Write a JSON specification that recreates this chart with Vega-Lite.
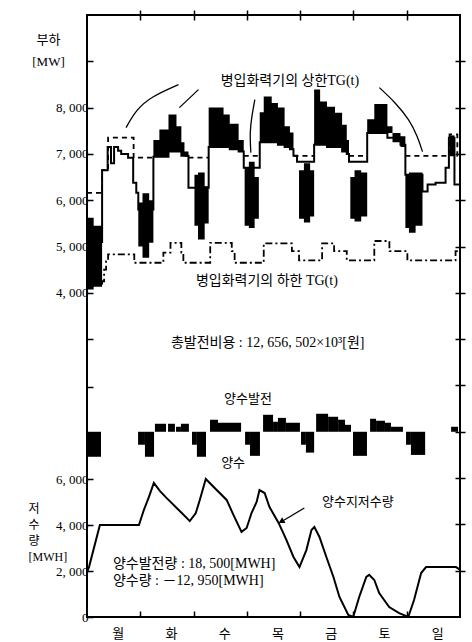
{
"$schema": "https://vega.github.io/schema/vega-lite/v6.json",
"width": 373,
"height": 602,
"autosize": {"type": "none"},
"padding": {"left": 87, "top": 15, "right": 12, "bottom": 25},
"background": "white",
"datasets": {
"blocks": [
{"blk":"A","h":0,"hi":5620,"lo":4070},{"blk":"A","h":3,"hi":5450,"lo":4130},{"blk":"A","h":6.8,"hi":5450,"lo":4130},
{"blk":"B","h":23.1,"hi":5950,"lo":5000},{"blk":"B","h":25,"hi":6150,"lo":4760},{"blk":"B","h":28,"hi":6000,"lo":5080},{"blk":"B","h":29.9,"hi":6000,"lo":5080},
{"blk":"C","h":29.9,"hi":7300,"lo":6940},{"blk":"C","h":32.6,"hi":7530,"lo":6940},{"blk":"C","h":36.7,"hi":7850,"lo":7050},{"blk":"C","h":40.3,"hi":7600,"lo":7050},{"blk":"C","h":42.5,"hi":7250,"lo":6960},{"blk":"C","h":43.9,"hi":7050,"lo":6940},{"blk":"C","h":45.7,"hi":7050,"lo":6940},
{"blk":"D","h":48.4,"hi":6550,"lo":5450},{"blk":"D","h":50,"hi":6600,"lo":5150},{"blk":"D","h":53,"hi":6300,"lo":5500},{"blk":"D","h":54.8,"hi":6300,"lo":5500},
{"blk":"E","h":54.8,"hi":8000,"lo":7150},{"blk":"E","h":61.5,"hi":7850,"lo":7150},{"blk":"E","h":64.3,"hi":7650,"lo":7100},{"blk":"E","h":68.3,"hi":7300,"lo":7050},{"blk":"E","h":70.6,"hi":7300,"lo":7050},
{"blk":"F","h":71,"hi":6720,"lo":5450},{"blk":"F","h":72.9,"hi":6830,"lo":5400},{"blk":"F","h":75.5,"hi":6500,"lo":5600},{"blk":"F","h":77.4,"hi":6500,"lo":5600},
{"blk":"G","h":77.8,"hi":7900,"lo":7250},{"blk":"G","h":79.6,"hi":8240,"lo":7250},{"blk":"G","h":83.2,"hi":8100,"lo":7250},{"blk":"G","h":86,"hi":8000,"lo":7200},{"blk":"G","h":89,"hi":7600,"lo":7150},{"blk":"G","h":91.4,"hi":7460,"lo":7100},{"blk":"G","h":93,"hi":7460,"lo":7100},
{"blk":"H","h":95.5,"hi":6650,"lo":5600},{"blk":"H","h":97.7,"hi":6800,"lo":5520},{"blk":"H","h":100.5,"hi":6650,"lo":5650},{"blk":"H","h":102.3,"hi":6650,"lo":5650},
{"blk":"I","h":102.3,"hi":8390,"lo":7200},{"blk":"I","h":105,"hi":8130,"lo":7200},{"blk":"I","h":108.1,"hi":8020,"lo":7150},{"blk":"I","h":111.7,"hi":7890,"lo":7150},{"blk":"I","h":114.9,"hi":7630,"lo":7050},{"blk":"I","h":117,"hi":7300,"lo":7000},{"blk":"I","h":118,"hi":7300,"lo":7000},
{"blk":"J","h":118.6,"hi":6500,"lo":5600},{"blk":"J","h":120.5,"hi":6650,"lo":5540},{"blk":"J","h":123.5,"hi":6600,"lo":5650},{"blk":"J","h":126.2,"hi":6600,"lo":5650},
{"blk":"K","h":126.2,"hi":7750,"lo":7450},{"blk":"K","h":129.4,"hi":8080,"lo":7450},{"blk":"K","h":135.3,"hi":7600,"lo":7450},{"blk":"K","h":137.6,"hi":7450,"lo":7250},{"blk":"K","h":141.2,"hi":7380,"lo":7150},{"blk":"K","h":143.4,"hi":7380,"lo":7150},
{"blk":"L","h":143.4,"hi":6550,"lo":5400},{"blk":"L","h":145,"hi":6600,"lo":5300},{"blk":"L","h":148,"hi":6600,"lo":5450},{"blk":"L","h":151.1,"hi":6600,"lo":5450},
{"blk":"M","h":163.5,"hi":7400,"lo":6950},{"blk":"M","h":165.5,"hi":7400,"lo":6950}
],
"thermal": [
{"h":0,"v":5100},{"h":6.8,"v":6650},{"h":9.3,"v":7150},{"h":10.8,"v":6800},{"h":12.2,"v":7150},{"h":14,"v":7070},{"h":15.4,"v":7000},{"h":18.5,"v":6920},{"h":20.8,"v":6380},{"h":22.2,"v":6160},{"h":23.1,"v":5800},{"h":29.9,"v":6940},{"h":36.7,"v":7050},{"h":42.5,"v":6960},{"h":45.7,"v":6270},{"h":54.8,"v":7150},{"h":64.3,"v":7100},{"h":68.3,"v":7050},{"h":70.6,"v":6700},{"h":77.8,"v":7250},{"h":86,"v":7200},{"h":89,"v":7150},{"h":91.4,"v":7100},{"h":93,"v":6960},{"h":94.6,"v":6830},{"h":102.3,"v":7200},{"h":108.1,"v":7150},{"h":114.9,"v":7050},{"h":117,"v":7000},{"h":118,"v":6830},{"h":126.2,"v":7450},{"h":135.3,"v":7350},{"h":141.2,"v":7200},{"h":143.4,"v":6550},{"h":151.1,"v":6190},{"h":153.4,"v":6340},{"h":157,"v":6380},{"h":161.5,"v":6700},{"h":163,"v":7350},{"h":165.5,"v":6340},{"h":168,"v":6340}
],
"upper": [
{"seg":1,"h":0,"v":6160},{"seg":1,"h":6.8,"v":6650},{"seg":1,"h":9.5,"v":7350},{"seg":1,"h":21,"v":6920},{"seg":1,"h":29.9,"v":6920},
{"seg":2,"h":45.7,"v":6920},{"seg":2,"h":54.8,"v":6920},
{"seg":3,"h":70.6,"v":6960},{"seg":3,"h":77.8,"v":6960},
{"seg":4,"h":93,"v":6960},{"seg":4,"h":102.3,"v":6960},
{"seg":5,"h":118,"v":6960},{"seg":5,"h":126.2,"v":6960},
{"seg":6,"h":143.4,"v":6960},{"seg":6,"h":163.3,"v":7420},{"seg":6,"h":166.8,"v":6960},{"seg":6,"h":168,"v":6960}
],
"lower": [
{"h":0,"v":4200},{"h":6.8,"v":4250},{"h":7.7,"v":4500},{"h":8.6,"v":4680},{"h":9.5,"v":4830},{"h":21.3,"v":4650},{"h":34.4,"v":4870},{"h":37.6,"v":5080},{"h":42.5,"v":4870},{"h":43.4,"v":4650},{"h":55.5,"v":5080},{"h":65.2,"v":4900},{"h":66.5,"v":4650},{"h":79.6,"v":5070},{"h":92.3,"v":4900},{"h":95.5,"v":4700},{"h":105.9,"v":5070},{"h":111.3,"v":4900},{"h":117,"v":4700},{"h":129.4,"v":5120},{"h":136.2,"v":4900},{"h":144.3,"v":4700},{"h":166,"v":4900},{"h":168,"v":4900}
],
"leaders": [
{"id":1,"seq":0,"h":41.2,"v":8497},{"id":1,"seq":1,"h":29,"v":8238},{"id":1,"seq":2,"h":22.2,"v":7957},{"id":1,"seq":3,"h":17.6,"v":7568},
{"id":2,"seq":0,"h":50.2,"v":8389},{"id":2,"seq":1,"h":41.6,"v":8000},
{"id":3,"seq":0,"h":75.6,"v":8173},{"id":3,"seq":1,"h":74.2,"v":7806},{"id":3,"seq":2,"h":73.3,"v":7460},{"id":3,"seq":3,"h":73.8,"v":7028},
{"id":4,"seq":0,"h":131.7,"v":8432},{"id":4,"seq":1,"h":138.9,"v":8108},{"id":4,"seq":2,"h":145.2,"v":7741},{"id":4,"seq":3,"h":148.9,"v":7374},{"id":4,"seq":4,"h":151.1,"v":7050}
],
"textUpper": [
{"h":91.4,"v":8583,"t":"병입화력기의 상한TG(t)"},
{"h":81,"v":4263,"t":"병입화력기의 하한 TG(t)"},
{"h":81.4,"v":2924,"t":"총발전비용 : 12, 656, 502×10³[원]"}
],
"pump": [
{"h0":0,"h1":6.3,"p":-540},{"h0":23,"h1":26.1,"p":-280},{"h0":26.1,"h1":30.2,"p":-540},{"h0":30.6,"h1":35.6,"p":173},{"h0":36.5,"h1":39.6,"p":173},{"h0":40.1,"h1":42.3,"p":108},{"h0":42.3,"h1":45.9,"p":173},
{"h0":47.3,"h1":49.5,"p":-280},{"h0":49.5,"h1":53.6,"p":-540},{"h0":55.4,"h1":59,"p":260},{"h0":59,"h1":69.4,"p":195},
{"h0":71.2,"h1":73.4,"p":-280},{"h0":73.4,"h1":77.9,"p":-520},{"h0":79.3,"h1":83.8,"p":367},{"h0":83.8,"h1":86,"p":216},{"h0":86,"h1":89.6,"p":300},{"h0":89.6,"h1":95.9,"p":195},
{"h0":96.4,"h1":98.6,"p":-280},{"h0":98.6,"h1":102.3,"p":-450},{"h0":103.2,"h1":108.6,"p":389},{"h0":108.6,"h1":113.1,"p":324},{"h0":113.1,"h1":116.2,"p":260},{"h0":116.2,"h1":118.9,"p":150},
{"h0":119.8,"h1":126.1,"p":-520},{"h0":127.5,"h1":130.2,"p":281},{"h0":130.2,"h1":134.2,"p":238},{"h0":134.2,"h1":136.9,"p":195},{"h0":136.9,"h1":142.3,"p":108},
{"h0":143.7,"h1":145.9,"p":-280},{"h0":145.9,"h1":152.3,"p":-500},{"h0":164,"h1":167.1,"p":108}
],
"storage": [
{"h":0,"s":1960},{"h":0.9,"s":2170},{"h":5.8,"s":4000},{"h":23.4,"s":4000},{"h":25.6,"s":4650},{"h":27.9,"s":5220},{"h":30.1,"s":5830},{"h":32.8,"s":5480},{"h":35.9,"s":5170},{"h":38.2,"s":4950},{"h":40.4,"s":4740},{"h":42.7,"s":4520},{"h":46.3,"s":4170},{"h":49,"s":4520},{"h":50.8,"s":5090},{"h":53.5,"s":6000},{"h":58.4,"s":5520},{"h":62.9,"s":5090},{"h":66,"s":4430},{"h":69.6,"s":3700},{"h":71.9,"s":3870},{"h":74.1,"s":4520},{"h":76.4,"s":5000},{"h":77.7,"s":5520},{"h":80,"s":5390},{"h":82.2,"s":4780},{"h":86.3,"s":4090},{"h":89.8,"s":3350},{"h":93,"s":2610},{"h":95.7,"s":2170},{"h":98.8,"s":2910},{"h":101.1,"s":3780},{"h":102.4,"s":3910},{"h":104.7,"s":3480},{"h":107.8,"s":2610},{"h":111,"s":1740},{"h":113.7,"s":870},{"h":117.7,"s":90},{"h":119.9,"s":0},{"h":122.6,"s":870},{"h":125.8,"s":1740},{"h":127.1,"s":1830},{"h":129.4,"s":1610},{"h":131.6,"s":1040},{"h":136.1,"s":430},{"h":140.6,"s":170},{"h":144.7,"s":0},{"h":147.3,"s":740},{"h":150.5,"s":1910},{"h":152.7,"s":2170},{"h":166.2,"s":2170},{"h":168,"s":2060}
],
"arrow": [{"h":97.9,"s":4739},{"h":86.6,"s":4087}],
"arrowHead": [{"h":87.5,"s":4152}],
"textLowerC": [
{"h":72.5,"s":9478,"t":"양수발전"},
{"h":65.8,"s":6696,"t":"양수"},
{"h":122,"s":5000,"t":"양수지저수량"}
],
"textLowerL": [
{"h":11.7,"s":2304,"t":"양수발전량 : 18, 500[MWH]"},
{"h":11.7,"s":1565,"t":"양수량 : －12, 950[MWH]"}
]
},
"layer": [
{
"data": {"name": "blocks"},
"mark": {"type": "area", "interpolate": "step-after", "color": "black"},
"encoding": {
"x": {"field": "h", "type": "quantitative", "scale": {"domain": [0, 168], "nice": false}, "axis": {"orient": "top", "values": [24, 48, 72, 96, 120, 144], "labels": false, "tickSize": 5, "title": null}},
"y": {"field": "hi", "type": "quantitative", "scale": {"domain": [-3000, 10000], "nice": false, "zero": false}, "axis": {"orient": "left", "values": [3000, 4000, 5000, 6000, 7000, 8000, 9000], "tickSize": -6, "labelPadding": 5, "labelExpr": "datum.value >= 4000 && datum.value <= 8000 ? replace(format(datum.value, ','), ',', ', ') : ''", "title": ["부하", "[MW]"], "titleAngle": 0, "titleAlign": "center", "titleBaseline": "top", "titleX": -39, "titleY": 18, "titleFont": "Liberation Serif, Noto Sans CJK KR", "titleFontSize": 13, "titleFontWeight": "normal", "titleLineHeight": 22}},
"y2": {"field": "lo"},
"detail": {"field": "blk"}
}
},
{
"data": {"name": "thermal"},
"mark": {"type": "line", "interpolate": "step-after", "color": "black", "strokeWidth": 2},
"encoding": {
"x": {"field": "h", "type": "quantitative", "axis": null},
"y": {"field": "v", "type": "quantitative", "scale": {"domain": [-3000, 10000], "nice": false, "zero": false}, "axis": null}
}
},
{
"data": {"name": "upper"},
"mark": {"type": "line", "interpolate": "step-after", "color": "black", "strokeWidth": 1.8, "strokeDash": [5, 4]},
"encoding": {
"x": {"field": "h", "type": "quantitative", "axis": null},
"y": {"field": "v", "type": "quantitative", "scale": {"domain": [-3000, 10000], "nice": false, "zero": false}, "axis": null},
"detail": {"field": "seg"}
}
},
{
"data": {"name": "leaders"},
"mark": {"type": "line", "interpolate": "basis", "color": "black", "strokeWidth": 1.3},
"encoding": {
"x": {"field": "h", "type": "quantitative", "axis": null},
"y": {"field": "v", "type": "quantitative", "scale": {"domain": [-3000, 10000], "nice": false, "zero": false}, "axis": null},
"detail": {"field": "id"},
"order": {"field": "seq"}
}
},
{
"data": {"name": "textUpper"},
"mark": {"type": "text", "align": "center", "baseline": "middle", "fontSize": 14, "font": "Liberation Serif, Noto Sans CJK KR", "color": "black"},
"encoding": {
"x": {"field": "h", "type": "quantitative", "axis": null},
"y": {"field": "v", "type": "quantitative", "scale": {"domain": [-3000, 10000], "nice": false, "zero": false}, "axis": null},
"text": {"field": "t"}
}
},
{
"data": {"name": "lower"},
"mark": {"type": "line", "interpolate": "step-after", "color": "black", "strokeWidth": 1.8, "strokeDash": [7, 3, 2, 3]},
"encoding": {
"x": {"field": "h", "type": "quantitative", "axis": {"orient": "top", "values": [24, 48, 72, 96, 120, 144], "labels": false, "tickSize": -5, "title": null}},
"y": {"field": "v", "type": "quantitative", "scale": {"domain": [-3000, 10000], "nice": false, "zero": false}, "axis": {"orient": "right", "values": [-2000, -1000, 0, 1000, 2000, 3000, 4000, 5000, 6000, 7000, 8000, 9000], "labels": false, "tickSize": 5, "title": null}}
}
},
{
"data": {"name": "pump"},
"mark": {"type": "rect", "color": "black"},
"encoding": {
"x": {"field": "h0", "type": "quantitative", "axis": {"orient": "bottom", "values": [12, 36, 60, 84, 108, 132, 156], "ticks": false, "labelExpr": "['월','화','수','목','금','토','일'][floor(datum.value / 24)]", "labelFont": "Noto Sans CJK KR", "labelFontSize": 13, "labelPadding": 10, "labelOffset": 4, "title": null}},
"x2": {"field": "h1"},
"y": {"field": "p", "type": "quantitative", "scale": {"domain": [-4000, 9000], "nice": false, "zero": false}, "axis": {"orient": "right", "values": [-3000, -2000, -1000, 0, 1000, 2000, 3000, 4000, 5000, 6000, 7000, 8000], "labels": false, "tickSize": -5, "title": null}},
"y2": {"datum": 0}
}
},
{
"mark": {"type": "rule", "color": "black", "strokeWidth": 1.5},
"encoding": {"y": {"datum": 0, "scale": {"domain": [-4000, 9000], "nice": false, "zero": false}, "axis": null}}
},
{
"data": {"name": "storage"},
"mark": {"type": "line", "color": "black", "strokeWidth": 2},
"encoding": {
"x": {"field": "h", "type": "quantitative", "axis": {"orient": "bottom", "values": [24, 48, 72, 96, 120, 144], "labels": false, "tickSize": -6, "title": null}},
"y": {"field": "s", "type": "quantitative", "scale": {"domain": [0, 26174], "nice": false, "zero": false}, "axis": {"orient": "left", "values": [0, 2000, 4000, 6000, 8000, 10000], "tickSize": -6, "labelPadding": 5, "labelExpr": "datum.value <= 6000 ? replace(format(datum.value, ','), ',', ', ') : ''", "title": ["저", "수", "량", "[MWH]"], "titleAngle": 0, "titleAlign": "left", "titleBaseline": "top", "titleX": -59, "titleY": 488, "titleFont": "Liberation Serif, Noto Sans CJK KR", "titleFontSize": 12, "titleFontWeight": "normal", "titleLineHeight": 16}}
}
},
{
"data": {"name": "arrow"},
"mark": {"type": "line", "color": "black", "strokeWidth": 1.3},
"encoding": {
"x": {"field": "h", "type": "quantitative", "axis": null},
"y": {"field": "s", "type": "quantitative", "scale": {"domain": [0, 26174], "nice": false, "zero": false}, "axis": null}
}
},
{
"data": {"name": "arrowHead"},
"mark": {"type": "point", "shape": "triangle-up", "angle": 240, "size": 45, "filled": true, "color": "black", "opacity": 1},
"encoding": {
"x": {"field": "h", "type": "quantitative", "axis": null},
"y": {"field": "s", "type": "quantitative", "scale": {"domain": [0, 26174], "nice": false, "zero": false}, "axis": null}
}
},
{
"data": {"name": "textLowerC"},
"mark": {"type": "text", "align": "center", "baseline": "middle", "fontSize": 13, "font": "Liberation Serif, Noto Sans CJK KR", "color": "black"},
"encoding": {
"x": {"field": "h", "type": "quantitative", "axis": null},
"y": {"field": "s", "type": "quantitative", "scale": {"domain": [0, 26174], "nice": false, "zero": false}, "axis": null},
"text": {"field": "t"}
}
},
{
"data": {"name": "textLowerL"},
"mark": {"type": "text", "align": "left", "baseline": "middle", "fontSize": 14, "font": "Liberation Serif, Noto Sans CJK KR", "color": "black"},
"encoding": {
"x": {"field": "h", "type": "quantitative", "axis": null},
"y": {"field": "s", "type": "quantitative", "scale": {"domain": [0, 26174], "nice": false, "zero": false}, "axis": null},
"text": {"field": "t"}
}
}
],
"resolve": {"scale": {"y": "independent"}, "axis": {"x": "independent", "y": "independent"}},
"config": {
"view": {"stroke": "black", "strokeWidth": 2},
"axis": {"domain": false, "grid": false, "tickColor": "black", "tickWidth": 1.5, "labelFont": "Liberation Serif", "labelFontSize": 13, "labelColor": "black", "titleColor": "black"}
}
}
